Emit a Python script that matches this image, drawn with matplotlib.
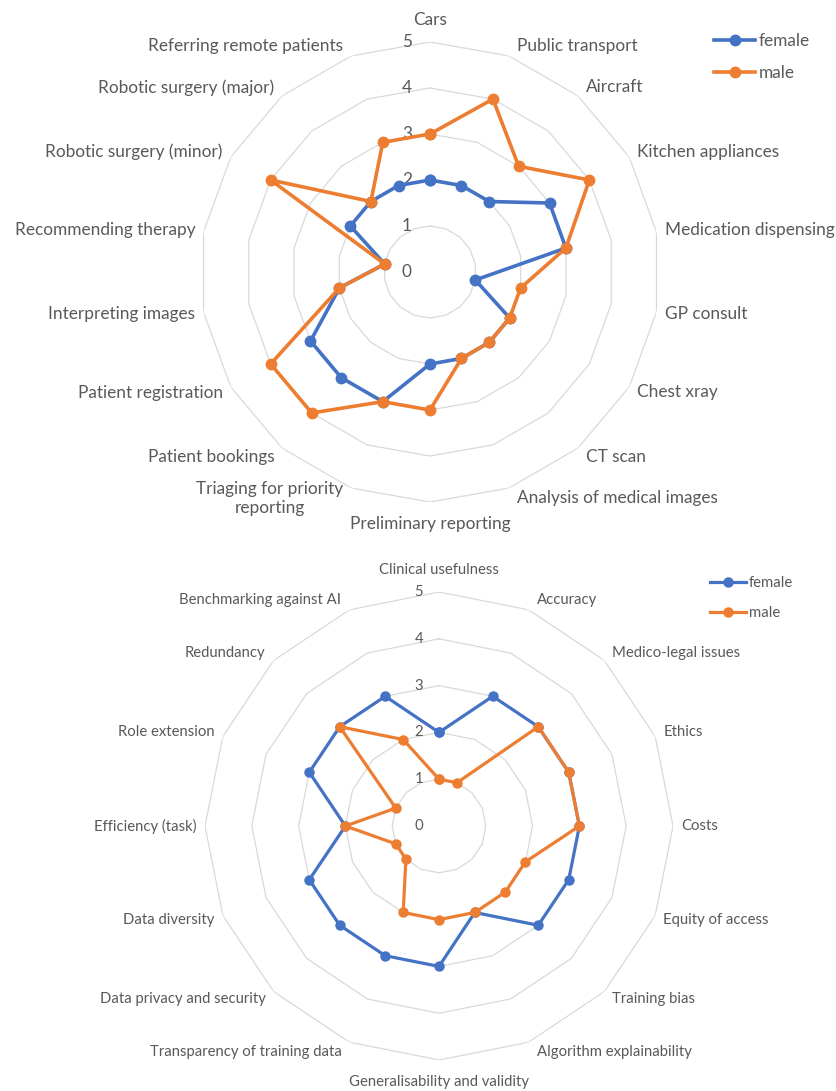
import matplotlib.pyplot as plt
import numpy as np

plt.rcParams['font.family'] = ['Lato', 'DejaVu Sans']

top_labels = ["Cars", "Public transport", "Aircraft", "Kitchen appliances",
              "Medication dispensing", "GP consult", "Chest xray", "CT scan",
              "Analysis of medical images", "Preliminary reporting",
              "Triaging for priority\nreporting", "Patient bookings",
              "Patient registration", "Interpreting images",
              "Recommending therapy", "Robotic surgery (minor)",
              "Robotic surgery (major)", "Referring remote patients"]
top_female = [2, 2, 2, 3, 3, 1, 2, 2, 2, 2, 3, 3, 3, 2, 1, 2, 2, 2]
top_male = [3, 4, 3, 4, 3, 2, 2, 2, 2, 3, 3, 4, 4, 2, 1, 4, 2, 3]

bottom_labels = ["Clinical usefulness", "Accuracy", "Medico-legal issues",
                 "Ethics", "Costs", "Equity of access", "Training bias",
                 "Algorithm explainability", "Generalisability and validity",
                 "Transparency of training data", "Data privacy and security",
                 "Data diversity", "Efficiency (task)", "Role extension",
                 "Redundancy", "Benchmarking against AI"]
bottom_female = [2, 3, 3, 3, 3, 3, 3, 2, 3, 3, 3, 3, 2, 3, 3, 3]
bottom_male = [1, 1, 3, 3, 3, 2, 2, 2, 2, 2, 1, 1, 2, 1, 3, 2]

ticks = [0, 1, 2, 3, 4, 5]

BLUE = '#4472C4'
ORANGE = '#ED7D31'
GREY = '#595959'
GRID = '#D9D9D9'

W, H = 836, 1091
fig = plt.figure(figsize=(W / 100, H / 100), dpi=100)


def radar(cx, cy, R, labels, female, male, fs, tick_dx, leg_xy, leg_fs,
          leg_len, leg_space, lw, ms):
    ax = fig.add_axes([(cx - R) / W, 1 - (cy + R) / H, 2 * R / W, 2 * R / H],
                      projection='polar')
    ax.set_theta_zero_location('N')
    ax.set_theta_direction(-1)
    ax.set_ylim(0, 5)
    ax.grid(False)
    ax.spines['polar'].set_visible(False)
    ax.set_xticks([])
    ax.set_yticks([])
    ax.patch.set_alpha(0)

    n = len(labels)
    ang = np.linspace(0, 2 * np.pi, n, endpoint=False)
    ang_c = np.append(ang, ang[0])

    # polygon rings, no spokes
    for r in ticks[1:]:
        ax.plot(ang_c, [r] * (n + 1), color=GRID, lw=0.9, zorder=1)

    for vals, col, name in [(female, BLUE, 'female'), (male, ORANGE, 'male')]:
        v = np.append(vals, vals[0])
        ax.plot(ang_c, v, color=col, lw=lw, marker='o', ms=ms,
                label=name, zorder=3, clip_on=False)

    for t in ticks:
        ax.annotate(str(t), xy=(0, t), xytext=(tick_dx, 0),
                    textcoords='offset pixels', ha='right', va='center',
                    fontsize=fs, color=GREY, zorder=2)

    for a, lab in zip(ang, labels):
        s, c = np.sin(a), np.cos(a)
        if abs(s) < 0.01:
            ha = 'center'
            dx, dy = 0, 22 if c > 0 else -22
        else:
            ha = 'left' if s > 0 else 'right'
            dx = 8 if s > 0 else -8
            dy = 11 * c
        ax.annotate(lab, xy=(a, 5), xytext=(dx, dy), textcoords='offset pixels',
                    ha=ha, va='center', multialignment='center',
                    fontsize=fs, color=GREY, annotation_clip=False)

    ax.legend(loc='upper left', bbox_to_anchor=(leg_xy[0] / W, 1 - leg_xy[1] / H),
              bbox_transform=fig.transFigure, frameon=False, fontsize=leg_fs,
              labelcolor=GREY, handlelength=leg_len, handletextpad=0.2,
              labelspacing=leg_space, borderaxespad=0)
    return ax


radar(430, 272, 230, top_labels, top_female, top_male, 12.4, -18,
      (707, 26), 12.4, 2.4, 0.95, 2.6, 7.5)
radar(439, 826, 234, bottom_labels, bottom_female, bottom_male, 10.7, -16,
      (704, 570), 10.7, 2.4, 1.1, 2.3, 6.5)

fig.savefig('out.png', dpi=100)
